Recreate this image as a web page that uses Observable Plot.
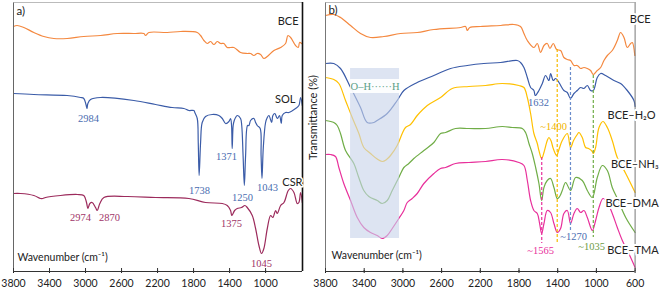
<!DOCTYPE html>
<html><head><meta charset="utf-8">
<script src="https://cdn.jsdelivr.net/npm/d3@7"></script>
<script src="https://cdn.jsdelivr.net/npm/@observablehq/plot@0.6"></script>
<style>
body{margin:0;background:#fff}
#chart{position:relative;width:661px;height:292px}
#chart svg{position:absolute;left:0;top:0}
</style></head><body><div id="chart"></div><script>
// ---------- Panel a data (wavenumber, offset transmittance a.u.) ----------
const aBCE_wn = [3800,3760,3685,3574,3463,3352,3204,3019,2833,2648,2463,2352,2333,2296,2092,1944,1759,1722,1685,1648,1611,1574,1537,1500,1463,1426,1352,1278,1204,1167,1130,1093,1056,1019,981,907,833,778,752,722,667,637,622,600];
const aBCE_T  = [244,245,243,238,234,232,232,234,235,237,237,237,235,238,238,239,238,235,230,227,229,226,229,227,227,223,223,218,217,217,215,217,216,212,214,220,223,227,235,233,225,223,228,227];
const aSOL_wn = [3800,3574,3204,3056,3019,2995,2984,2974,2944,2833,2463,2222,2037,1908,1852,1797,1786,1759,1748,1738,1722,1704,1667,1593,1519,1481,1444,1407,1389,1378,1371,1360,1348,1333,1315,1278,1265,1250,1236,1222,1200,1185,1167,1130,1111,1093,1060,1050,1040,1026,1000,981,963,933,919,897,870,845,826,815,778,741,667,630,611,592];
const aSOL_T  = [177,176,175,173,172,166,162,167,171,173,170,166,163,162,160,160,158,152,128,95,128,148,154,156,155,152,147,149,152,145,122,145,150,153,155,152,145,115,85,115,145,145,150,152,148,145,142,115,92,122,148,153,155,148,155,157,152,155,147,155,158,158,162,165,173,165];
const aCSR_wn = [3800,3722,3574,3500,3474,3444,3278,3092,3019,2989,2974,2952,2926,2889,2870,2841,2796,2537,2222,1852,1667,1481,1426,1389,1375,1344,1315,1267,1230,1204,1148,1111,1074,1045,1019,981,944,919,889,870,833,796,748,722,685,648,630,611,592];
const aCSR_T  = [77,77,75,72,72,73,75,76,75,68,62,67,68,63,60,67,73,74,73,72,68,67,65,60,55,60,62,63,65,63,55,42,25,17,22,42,55,53,60,57,65,68,80,82,78,67,68,78,68];

// ---------- Panel b data ----------
const bBCE_wn = [3800,3714,3645,3541,3438,3335,3197,3024,2852,2680,2404,2352,2335,2308,2197,1990,1853,1784,1749,1714,1646,1611,1577,1542,1508,1480,1446,1411,1370,1336,1301,1267,1232,1198,1163,1129,1094,1060,1032,991,956,922,887,836,784,750,715,681,646,629,603];
const bBCE_T  = [255,256,253,245,237,233,234,237,238,241,243,244,240,243,244,245,246,244,237,230,223,227,218,225,227,222,227,221,220,213,211,210,205,205,202,203,202,200,196,200,203,210,215,220,230,238,233,223,227,228,215];
const bH2O_wn = [3800,3714,3645,3541,3438,3369,3300,3266,3162,3059,2990,2852,2680,2507,2335,2163,1990,1818,1784,1749,1714,1680,1646,1632,1594,1559,1525,1491,1473,1446,1422,1387,1336,1301,1268,1232,1198,1163,1129,1094,1060,1032,991,956,905,819,750,681,612,600];
const bH2O_T  = [207,207,202,183,163,148,148,150,157,170,180,188,195,202,205,207,208,210,208,203,193,183,180,175,180,187,195,190,197,190,192,188,180,178,172,177,180,183,182,185,180,180,193,197,195,190,187,180,170,164];
const bNH3_wn = [3800,3714,3662,3593,3524,3455,3404,3335,3273,3214,3169,3128,3059,3007,2973,2921,2852,2748,2611,2490,2318,2146,1973,1801,1749,1714,1680,1646,1611,1594,1566,1542,1508,1491,1470,1446,1411,1387,1353,1301,1267,1236,1198,1181,1146,1112,1081,1042,1032,1008,973,932,887,836,784,697,600];
const bNH3_T  = [193,191,187,170,153,137,123,117,112,109,111,115,125,137,143,146,155,165,173,182,184,185,187,185,183,173,157,137,127,120,112,118,130,133,130,122,115,121,130,137,123,130,136,138,133,123,122,119,117,123,143,149,143,130,113,97,78];
const bDMA_wn = [3800,3714,3679,3645,3593,3507,3456,3404,3352,3265,3214,3162,3110,3042,2990,2939,2887,2783,2680,2611,2559,2456,2318,2146,1973,1870,1766,1732,1697,1663,1628,1594,1566,1542,1508,1474,1439,1404,1380,1353,1318,1267,1215,1146,1094,1042,991,939,887,836,784,697,600];
const bDMA_T  = [150,148,145,137,120,107,93,80,74,70,67,70,80,93,103,107,112,120,128,137,138,142,142,142,144,143,142,138,127,117,103,87,70,83,90,92,83,72,74,80,88,80,93,90,80,73,93,105,100,83,72,53,38];
const bTMA_wn = [3800,3748,3697,3662,3611,3541,3472,3404,3335,3266,3214,3162,3110,3042,2990,2955,2904,2852,2783,2680,2611,2559,2456,2318,2146,1973,1801,1749,1714,1680,1646,1611,1587,1566,1542,1508,1474,1439,1404,1370,1336,1301,1267,1232,1198,1163,1129,1094,1042,1008,973,932,887,836,784,732,646,600];
const bTMA_T  = [116,116,114,103,87,70,53,43,38,35,32,35,42,52,60,68,72,77,87,97,102,103,107,108,109,111,108,105,90,70,60,57,47,37,47,60,58,47,38,42,57,60,47,57,62,58,60,53,40,50,63,72,68,57,43,30,13,3];

// ---------- labels / ticks ----------
const ticksA = [3800,3400,3000,2600,2200,1800,1400,1000];
const ticksB = [3800,3400,3000,2600,2200,1800,1400,1000,600];
const seriesLabelsA = ["BCE","SOL","CSR"];
const seriesLabelsA_wn = [634,668,590];
const seriesLabelsA_T = [249,171,88];
const seriesLabelsB = ["BCE","BCE–H₂O","BCE–NH₃","BCE–DMA","BCE–TMA"];
const seriesLabelsB_wn = [439,388,357,357,357];
const seriesLabelsB_T = [251,155,106,67,20];
const peaksSOL = ["2984","1738","1371","1250","1043"];
const peaksSOL_wn = [2967,1733,1433,1256,978];
const peaksSOL_T = [152,80,114,73,83];
const peaksCSR = ["2974","2870","1375","1045"];
const peaksCSR_wn = [3056,2733,1378,1045];
const peaksCSR_T = [53,53,47,7];
const peaksB = ["1632","~1400","~1565","~1270","~1035"];
const peaksB_wn = [1598,1442,1577,1236,1050];
const peaksB_T = [168,144,20,34,24];
const peaksB_series = ["H2O","NH3","TMA","H2O","DMA"];
const guideWn = [1565,1405,1268,1032];
const guideTop = [113,221,203,195];
const guideBottom = [27,28,40,33];
const guideSeries = ["TMA","NH3","H2O","DMA"];
const ohBand = {wn1: 3541, wn2: 3035, T1: 32, T2: 202};

const colors = {BCE:"#F4883F", SOL:"#3B5CA8", CSR:"#9C2B5C", H2O:"#3A5BA8", NH3:"#FFC000", DMA:"#70AD47", TMA:"#E8309B"};
const textColors = {SOL:"#4A6DB0", CSR:"#A03468", H2O:"#4A6DB0", NH3:"#F0B400", DMA:"#6E9B45", TMA:"#E8309B"};
const guideColors = {TMA:"#E8309B", NH3:"#F5BA00", H2O:"#6A8CCB", DMA:"#70AD47"};

const rows = (name, wn, T) => d3.range(Math.min(wn.length, T.length)).map(i => ({name, wn: wn[i], T: T[i]}));
const zipLabels = (t, wn, T) => t.map((s, i) => ({s, wn: wn[i], T: T[i]}));

const dataA = [...rows("BCE", aBCE_wn, aBCE_T), ...rows("SOL", aSOL_wn, aSOL_T), ...rows("CSR", aCSR_wn, aCSR_T)];
const dataB = [...rows("BCE", bBCE_wn, bBCE_T), ...rows("H2O", bH2O_wn, bH2O_T), ...rows("NH3", bNH3_wn, bNH3_T), ...rows("DMA", bDMA_wn, bDMA_T), ...rows("TMA", bTMA_wn, bTMA_T)];

const W = 661, H = 292;
const common = {width: W, height: H, marginTop: 0, marginBottom: 22,
  style: {background: "none", fontFamily: "Lato, 'Open Sans', sans-serif", fontSize: "10.5px", color: "#222", overflow: "visible"}};
const serif = "'Liberation Serif', 'DejaVu Serif', serif";
const sans = "Lato, 'Open Sans', sans-serif";

const lineMarks = (data) => Object.keys(colors).filter(k => data.some(d => d.name === k)).map(k =>
  Plot.line(data.filter(d => d.name === k), {x: "wn", y: "T", stroke: colors[k], strokeWidth: 1.2, curve: "catmull-rom"}));

// ---------- Panel a ----------
const plotA = Plot.plot({
  ...common,
  marginLeft: 13, marginRight: W - 302,
  x: {domain: [3800, 590], ticks: ticksA, tickFormat: "d", tickSize: 3, tickPadding: 6, label: null},
  y: {domain: [0, 270], axis: null},
  marks: [
    ...lineMarks(dataA),
    Plot.ruleX([3800], {y1: 0, y2: 268, stroke: "#666", strokeWidth: 1}),
    Plot.ruleY([268], {x1: 3800, x2: 590, stroke: "#aaa", strokeWidth: 0.8}),
    Plot.ruleX([590], {y1: -1, y2: 268, stroke: "#111", strokeWidth: 1.6}),
    Plot.ruleY([-1], {x1: 3800, x2: 590, stroke: "#333", strokeWidth: 1}),
    Plot.ruleX(ticksA, {y1: -1, y2: 2, stroke: "#333"}),
    Plot.text(zipLabels(seriesLabelsA, seriesLabelsA_wn, seriesLabelsA_T), {x: "wn", y: "T", text: "s", textAnchor: "end", fontSize: 11, fontFamily: sans, fill: "#222", stroke: "white", strokeWidth: 3}),
    Plot.text(zipLabels(peaksSOL, peaksSOL_wn, peaksSOL_T), {x: "wn", y: "T", text: "s", fontSize: 10.5, fontFamily: serif, fill: textColors.SOL}),
    Plot.text(zipLabels(peaksCSR, peaksCSR_wn, peaksCSR_T), {x: "wn", y: "T", text: "s", fontSize: 10.5, fontFamily: serif, fill: textColors.CSR}),
    Plot.text(["a)"], {x: 3767, y: 259, text: d => d, textAnchor: "start", fontSize: 11.5, fontFamily: sans, fill: "#222"}),
    Plot.text(["Wavenumber (cm⁻¹)"], {x: 3756, y: 13, text: d => d, textAnchor: "start", fontSize: 10.5, fontFamily: sans, fill: "#222"})
  ]
});

// ---------- Panel b ----------
const labB = zipLabels(peaksB, peaksB_wn, peaksB_T).map((d, i) => ({...d, c: textColors[peaksB_series[i]]}));
const guides = guideWn.map((wn, i) => ({wn, T1: guideTop[i], T2: guideBottom[i], c: guideColors[guideSeries[i]]}));
const plotB = Plot.plot({
  ...common,
  marginLeft: 325, marginRight: W - 634.6,
  x: {domain: [3800, 600], ticks: ticksB, tickFormat: "d", tickSize: 3, tickPadding: 6, label: null},
  y: {domain: [0, 270], axis: null},
  marks: [
    ...lineMarks(dataB),
    Plot.rect([ohBand], {x1: "wn1", x2: "wn2", y1: "T1", y2: "T2", fill: "#C8D3EA", fillOpacity: 0.62}),
    Plot.rect([ohBand], {x1: "wn1", x2: "wn2", y1: 177, y2: 191, fill: "white", fillOpacity: 0.9}),
    Plot.text(["O–H······H"], {x: (ohBand.wn1 + ohBand.wn2) / 2, y: 184, text: d => d, fontSize: 10.5, fontFamily: serif, fill: "#5A9E86"}),
    Plot.ruleX(guides, {x: "wn", y1: "T1", y2: "T2", stroke: "c", strokeWidth: 1.2, strokeDasharray: "3,2"}),
    Plot.text(labB, {x: "wn", y: "T", text: "s", fill: "c", fontSize: 10.5, fontFamily: serif}),
    Plot.ruleX([3800], {y1: -1, y2: 268, stroke: "#777", strokeWidth: 1}),
    Plot.ruleY([268], {x1: 3800, x2: 600, stroke: "#aaa", strokeWidth: 0.8}),
    Plot.ruleX([600], {y1: -1, y2: 268, stroke: "#777", strokeWidth: 1}),
    Plot.ruleY([-1], {x1: 3800, x2: 600, stroke: "#333", strokeWidth: 1}),
    Plot.ruleX(ticksB, {y1: -1, y2: 2, stroke: "#333"}),
    Plot.text(zipLabels(seriesLabelsB, seriesLabelsB_wn, seriesLabelsB_T), {x: "wn", y: "T", text: "s", textAnchor: "end", fontSize: 11, fontFamily: sans, fill: "#222", stroke: "white", strokeWidth: 4}),
    Plot.text(["b)"], {x: 3769, y: 260, text: d => d, textAnchor: "start", fontSize: 11.5, fontFamily: sans, fill: "#222"}),
    Plot.text(["Wavenumber (cm⁻¹)"], {x: 3738, y: 15, text: d => d, textAnchor: "start", fontSize: 10.5, fontFamily: sans, fill: "#222"}),
    Plot.text(["Transmittance (%)"], {x: 3924, y: 153, text: d => d, rotate: -90, fontSize: 11, fontFamily: sans, fill: "#222"})
  ]
});

const el = document.getElementById("chart");
el.append(plotA, plotB);
</script></body></html>
